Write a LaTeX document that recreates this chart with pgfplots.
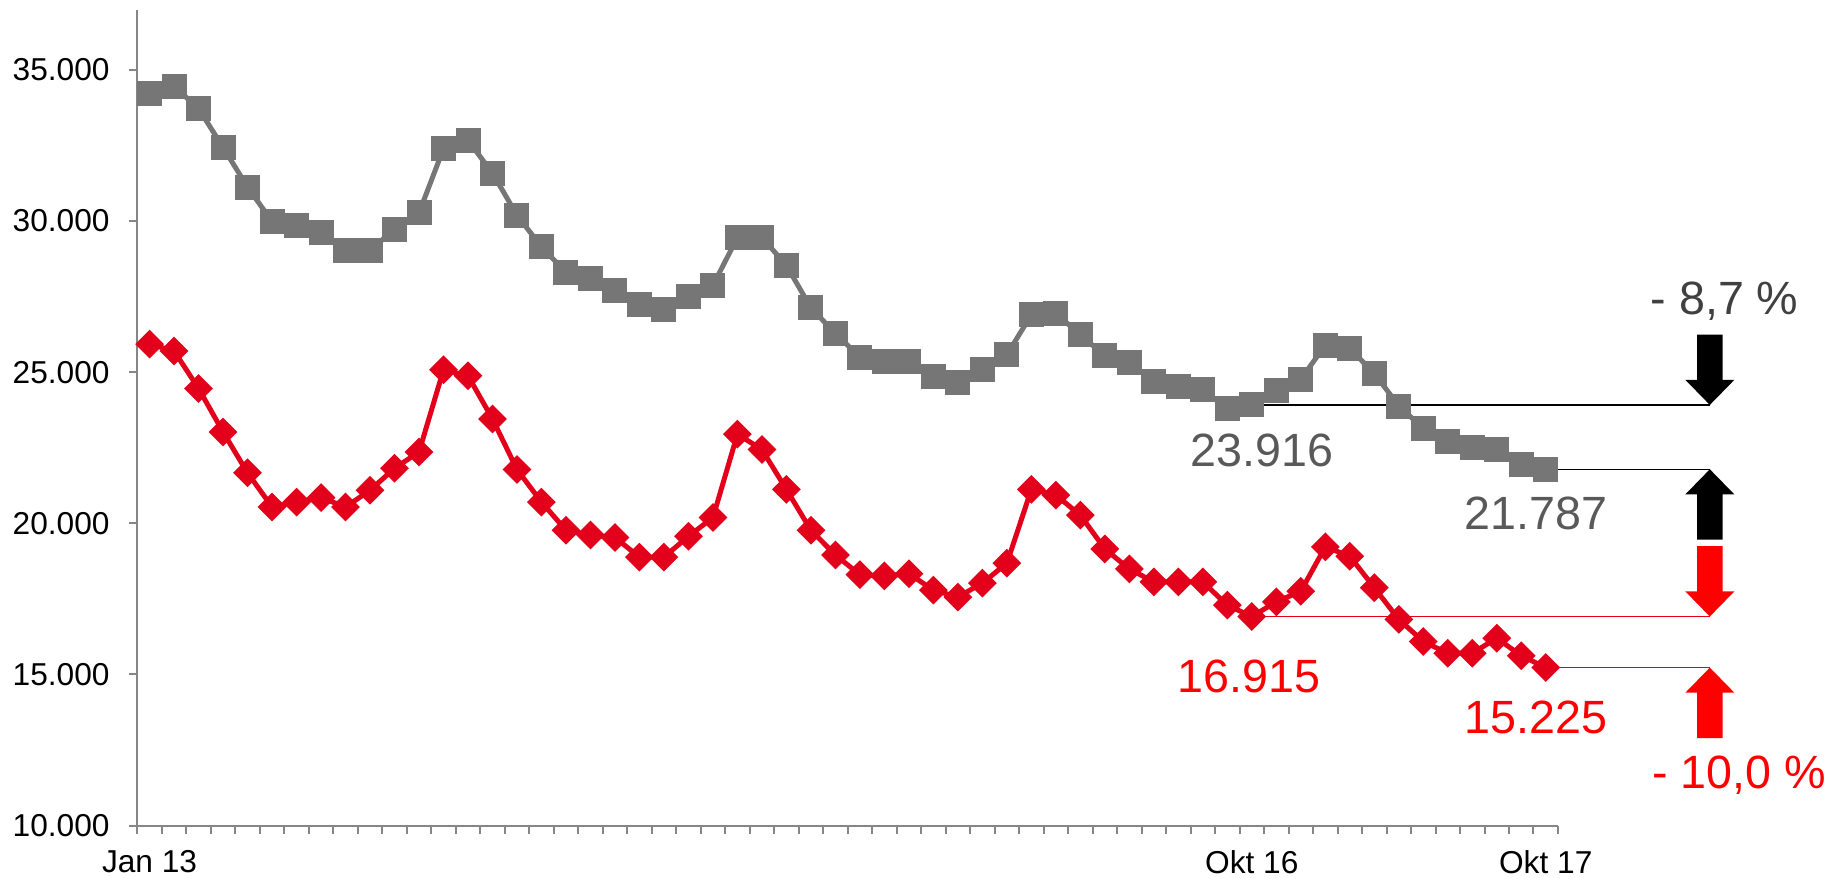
\documentclass[border=0pt]{standalone}
\usepackage{fontspec}
\setmainfont{Liberation Sans}
\usepackage{pgfplots}
\usepackage{pgfplotstable}
\pgfplotsset{compat=1.18}

\definecolor{seriesgray}{RGB}{118,118,118}
\definecolor{seriesred}{RGB}{226,0,26}
\definecolor{axisgray}{RGB}{134,134,134}
\definecolor{labelgray}{RGB}{89,89,89}
\definecolor{pctgray}{RGB}{64,64,64}
\definecolor{brightred}{RGB}{255,0,0}

% month index (0 = Jan 13, 57 = Okt 17)
\pgfplotstableread{
m gray red
0 34225 25930
1 34460 25700
2 33720 24460
3 32440 23020
4 31120 21670
5 29990 20540
6 29840 20700
7 29610 20850
8 29030 20540
9 29030 21090
10 29730 21820
11 30270 22360
12 32400 25080
13 32670 24880
14 31590 23450
15 30190 21780
16 29150 20700
17 28300 19770
18 28100 19610
19 27710 19530
20 27250 18880
21 27090 18880
22 27520 19570
23 27870 20190
24 29460 22950
25 29460 22440
26 28530 21120
27 27130 19770
28 26280 18950
29 25500 18300
30 25350 18260
31 25350 18330
32 24850 17790
33 24650 17560
34 25080 18020
35 25580 18680
36 26900 21120
37 26940 20930
38 26240 20270
39 25540 19150
40 25310 18490
41 24690 18060
42 24540 18060
43 24420 18060
44 23800 17290
45 23916 16915
46 24380 17400
47 24770 17750
48 25890 19220
49 25780 18910
50 24960 17870
51 23880 16820
52 23140 16090
53 22710 15700
54 22520 15700
55 22440 16200
56 21940 15620
57 21787 15225
}\datatable

\begin{document}
\begin{tikzpicture}
\path[use as bounding box] (-41.2pt,-15.75pt) rectangle (511.1pt,247.65pt);
\begin{axis}[
    at={(0,0)}, anchor=south west,
    scale only axis, width=426.2pt, height=244.8pt,
    xmin=-0.5, xmax=57.5, ymin=10000, ymax=37000,
    clip=false,
    axis x line*=bottom, axis y line*=left,
    axis line style={draw=axisgray, line width=0.6pt, -},
    tick style={draw=axisgray, line width=0.6pt},
    tick align=outside, major tick length=2.5pt,
    xtick={-0.5,0.5,...,57.5}, xticklabels={},
    extra x ticks={0,45,57}, extra x tick labels={Jan 13,Okt 16,Okt 17},
    extra x tick style={major tick length=0pt},
    xticklabel style={yshift=-4pt},
    ytick={10000,15000,...,35000},
    scaled y ticks=false,
    yticklabel style={xshift=-2.3pt, /pgf/number format/.cd, fixed, precision=0, 1000 sep={.}, assume math mode=true},
    ticklabel style={font=\fontsize{9.5}{11}\selectfont},
]
\addplot[seriesgray, line width=1.5pt, mark=square*, mark size=3pt] table[x=m, y=gray]{\datatable};
\addplot[seriesred, line width=1.5pt, mark=square*, mark size=2.3pt, mark options={rotate=45}] table[x=m, y=red]{\datatable};

% reference lines
\draw[black, line width=0.45pt] (axis cs:44.6,23916) -- (axis cs:63.7,23916);
\draw[black, line width=0.45pt] (axis cs:57,21787) -- (axis cs:63.7,21787);
\draw[seriesred, line width=0.45pt] (axis cs:45.3,16915) -- (axis cs:63.7,16915);
\draw[seriesred, line width=0.45pt] (axis cs:57,15225) -- (axis cs:63.7,15225);

% arrows
\fill[black] (axis cs:63.18,26246) -- (axis cs:64.22,26246) -- (axis cs:64.22,24746) -- (axis cs:64.7,24746)
  -- (axis cs:63.7,23916) -- (axis cs:62.7,24746) -- (axis cs:63.18,24746) -- cycle;
\fill[black] (axis cs:63.18,19457) -- (axis cs:64.22,19457) -- (axis cs:64.22,20957) -- (axis cs:64.7,20957)
  -- (axis cs:63.7,21787) -- (axis cs:62.7,20957) -- (axis cs:63.18,20957) -- cycle;
\fill[brightred] (axis cs:63.18,19245) -- (axis cs:64.22,19245) -- (axis cs:64.22,17745) -- (axis cs:64.7,17745)
  -- (axis cs:63.7,16915) -- (axis cs:62.7,17745) -- (axis cs:63.18,17745) -- cycle;
\fill[brightred] (axis cs:63.18,12895) -- (axis cs:64.22,12895) -- (axis cs:64.22,14395) -- (axis cs:64.7,14395)
  -- (axis cs:63.7,15225) -- (axis cs:62.7,14395) -- (axis cs:63.18,14395) -- cycle;

% labels
\node[text=pctgray, font=\fontsize{14}{16}\selectfont] at (axis cs:64.3,27365) {- 8,7 \%};
\node[text=brightred, font=\fontsize{14}{16}\selectfont] at (axis cs:64.9,11667) {- 10,0 \%};
\node[text=labelgray, font=\fontsize{14}{16}\selectfont] at (axis cs:45.4,22403) {23.916};
\node[text=labelgray, font=\fontsize{14}{16}\selectfont] at (axis cs:56.6,20310) {21.787};
\node[text=brightred, font=\fontsize{14}{16}\selectfont] at (axis cs:44.9,14922) {16.915};
\node[text=brightred, font=\fontsize{14}{16}\selectfont] at (axis cs:56.6,13566) {15.225};
\end{axis}
\end{tikzpicture}
\end{document}
